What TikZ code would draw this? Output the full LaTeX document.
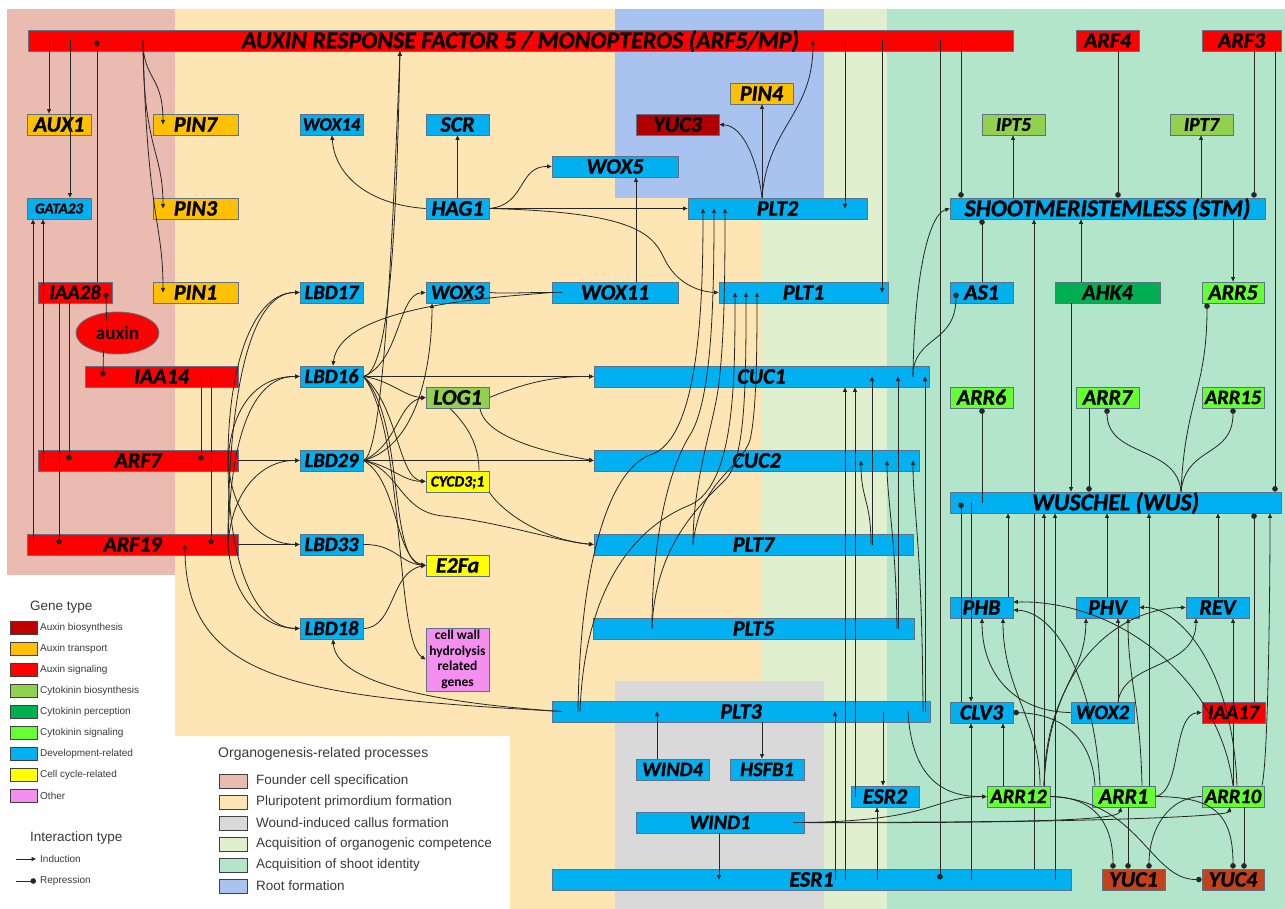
\documentclass[tikz,border=0pt]{standalone}
\usepackage{fontspec}
\setmainfont{Liberation Sans}
\newfontfamily\genefont{Carlito}[BoldItalicFeatures={FakeBold=1.2}]
\usetikzlibrary{arrows.meta,shapes.geometric,calc}
\pgfdeclarelayer{bgl}
\pgfdeclarelayer{midl}
\pgfsetlayers{bgl,midl,main}

\definecolor{bgpink}{HTML}{E9BBB1}
\definecolor{bgyellow}{HTML}{FDE6B3}
\definecolor{bgblue}{HTML}{A8C3F0}
\definecolor{bglgreen}{HTML}{E0EFCD}
\definecolor{bgmint}{HTML}{B2E5CA}
\definecolor{bggray}{HTML}{D9D9D9}
\definecolor{auxbio}{HTML}{C00000}
\definecolor{yucdark}{HTML}{B00000}
\definecolor{yucbrown}{HTML}{C3421C}
\definecolor{auxtr}{HTML}{FFC000}
\definecolor{auxsig}{HTML}{FF0000}
\definecolor{ckbio}{HTML}{92D050}
\definecolor{ckperc}{HTML}{00B050}
\definecolor{cksig}{HTML}{66FF33}
\definecolor{dev}{HTML}{00B0F0}
\definecolor{cc}{HTML}{FFFF00}
\definecolor{othr}{HTML}{F48FF0}
\definecolor{bord}{HTML}{5F7285}
\definecolor{legtext}{HTML}{3A3A3A}

\newcommand{\gene}[8][22]{%
  \node[gbox, fill=#7, minimum width={(#5-#3)*1pt}, minimum height={(#6-#4)*1pt},
        font={\genefont\bfseries\itshape\fontsize{#1}{#1}\selectfont},
        text height={0.644*#1pt}, text depth=0pt]
     (#2) at ({(#3+#5)/2},{(#4+#6)/2}) {#8};}

\begin{document}
\begin{tikzpicture}[x=1pt,y=-1pt,
  gbox/.style={draw=bord, line width=0.8pt, inner sep=0pt, text=black},
  lk/.style={draw=black!85, line width=0.8pt},
  ind/.style={lk, -{Triangle[length=4.5pt,width=4pt]}},
  rep/.style={lk, -{Circle[length=5.5pt]}},
  legsw/.style={draw=black!75, line width=0.8pt, inner sep=0pt},
  legtxt/.style={text=legtext, inner sep=0pt, anchor=west}]
\useasboundingbox (0,0) rectangle (1285,909);

% ---------- background regions
\begin{pgfonlayer}{bgl}
\fill[white] (0,0) rectangle (1285,909);
\fill[bgpink] (7,9) rectangle (175,575);
\fill[bgyellow] (175,9) -- (615,9) -- (615,198) -- (762,198) -- (762,681) -- (615,681)
   -- (615,909) -- (510,909) -- (510,736) -- (175,736) -- cycle;
\fill[bgblue] (615,9) rectangle (824,198);
\fill[bglgreen] (824,9) -- (887,9) -- (887,909) -- (824,909) -- (824,681) -- (762,681)
   -- (762,198) -- (824,198) -- cycle;
\fill[bgmint] (887,9) rectangle (1285,909);
\fill[bggray] (615,681) rectangle (824,909);
\end{pgfonlayer}

% ---------- gene nodes
\gene[24]{ARF5}{28}{30}{1013}{51}{auxsig}{AUXIN RESPONSE FACTOR 5 / MONOPTEROS (ARF5/MP)}
\gene{ARF4}{1076}{30}{1139}{51}{auxsig}{ARF4}
\gene{ARF3}{1202}{30}{1281}{51}{auxsig}{ARF3}
\gene{AUX1}{27}{114}{91}{135}{auxtr}{AUX1}
\gene{PIN7}{153}{114}{238}{135}{auxtr}{PIN7}
\gene[18.5]{WOX14}{300}{114}{363}{135}{dev}{WOX14}
\gene{SCR}{426}{114}{489}{135}{dev}{SCR}
\gene{YUC3}{636}{114}{719}{135}{yucdark}{YUC3}
\gene{PIN4}{730}{83}{793}{104}{auxtr}{PIN4}
\gene[19.5]{IPT5}{982}{114}{1045}{135}{ckbio}{IPT5}
\gene[19.5]{IPT7}{1170}{114}{1233}{135}{ckbio}{IPT7}
\gene{WOX5}{552}{156}{678}{177}{dev}{WOX5}
\gene[15]{GATA23}{27}{198}{91}{219}{dev}{GATA23}
\gene{PIN3}{153}{198}{238}{219}{auxtr}{PIN3}
\gene{HAG1}{426}{198}{489}{219}{dev}{HAG1}
\gene{PLT2}{688}{198}{867}{219}{dev}{PLT2}
\gene[24]{STM}{950}{198}{1265}{219}{dev}{SHOOTMERISTEMLESS (STM)}
\gene[20.5]{IAA28}{38}{282}{112}{303}{auxsig}{IAA28}
\gene{PIN1}{153}{282}{238}{303}{auxtr}{PIN1}
\gene[20.5]{LBD17}{300}{282}{363}{303}{dev}{LBD17}
\gene[20.5]{WOX3}{426}{282}{489}{303}{dev}{WOX3}
\gene{WOX11}{552}{282}{678}{303}{dev}{WOX11}
\gene{PLT1}{719}{282}{888}{303}{dev}{PLT1}
\gene{AS1}{950}{282}{1013}{303}{dev}{AS1}
\gene{AHK4}{1055}{282}{1160}{303}{ckperc}{AHK4}
\gene{ARR5}{1202}{282}{1264}{303}{cksig}{ARR5}
\gene{IAA14}{85}{366}{238}{387}{auxsig}{IAA14}
\gene[20.5]{LBD16}{300}{366}{363}{387}{dev}{LBD16}
\gene{CUC1}{594}{366}{929}{387}{dev}{CUC1}
\gene{LOG1}{426}{387}{489}{408}{ckbio}{LOG1}
\gene{ARR6}{950}{387}{1013}{408}{cksig}{ARR6}
\gene{ARR7}{1076}{387}{1139}{408}{cksig}{ARR7}
\gene[20.5]{ARR15}{1202}{387}{1264}{408}{cksig}{ARR15}
\gene{ARF7}{38}{450}{238}{471}{auxsig}{ARF7}
\gene[20.5]{LBD29}{300}{450}{363}{471}{dev}{LBD29}
\gene{CUC2}{594}{450}{919}{471}{dev}{CUC2}
\gene[15.5]{CYCD}{426}{471}{489}{492}{cc}{CYCD3;1}
\gene[24]{WUS}{950}{492}{1281}{513}{dev}{WUSCHEL (WUS)}
\gene{ARF19}{27}{534}{238}{555}{auxsig}{ARF19}
\gene[20.5]{LBD33}{300}{534}{363}{555}{dev}{LBD33}
\gene{PLT7}{594}{534}{913}{555}{dev}{PLT7}
\gene{E2Fa}{426}{555}{489}{576}{cc}{E2Fa}
\gene{PHB}{950}{597}{1013}{618}{dev}{PHB}
\gene{PHV}{1076}{597}{1139}{618}{dev}{PHV}
\gene{REV}{1186}{597}{1249}{618}{dev}{REV}
\gene[20.5]{LBD18}{300}{618}{363}{639}{dev}{LBD18}
\gene{PLT5}{593}{618}{914}{639}{dev}{PLT5}
\gene{PLT3}{552}{701}{930}{722}{dev}{PLT3}
\gene{CLV3}{950}{702}{1013}{723}{dev}{CLV3}
\gene[20.5]{WOX2}{1071}{702}{1134}{723}{dev}{WOX2}
\gene[20.5]{IAA17}{1202}{702}{1265}{723}{auxsig}{IAA17}
\gene[20.5]{WIND4}{636}{759}{709}{780}{dev}{WIND4}
\gene[20.5]{HSFB1}{730}{759}{804}{780}{dev}{HSFB1}
\gene{ESR2}{851}{786}{919}{807}{dev}{ESR2}
\gene[20.5]{ARR12}{987}{786}{1050}{807}{cksig}{ARR12}
\gene{ARR1}{1092}{786}{1155}{807}{cksig}{ARR1}
\gene[20.5]{ARR10}{1202}{786}{1264}{807}{cksig}{ARR10}
\gene[20.5]{WIND1}{636}{812}{804}{833}{dev}{WIND1}
\gene{ESR1}{552}{869}{1071}{890}{dev}{ESR1}
\gene{YUC1}{1102}{869}{1165}{890}{yucbrown}{YUC1}
\gene{YUC4}{1202}{869}{1264}{890}{yucbrown}{YUC4}

\node[gbox, fill=othr, minimum width=63pt, minimum height=63pt, align=center,
      font={\genefont\bfseries\fontsize{13.5}{15.5}\selectfont}]
   (cellwall) at (457.5,659.5) {cell wall\\hydrolysis\\related\\genes};
\node[ellipse, fill=red, draw=bord, line width=0.8pt, minimum width=83pt, minimum height=42pt,
      inner sep=0pt, font={\genefont\bfseries\fontsize{19}{19}\selectfont}]
   (auxin) at (117.5,333) {auxin};

% ---------- connectors passing behind boxes
\begin{pgfonlayer}{midl}
\draw[ind] (ESR1.center -| 1034,0) -- (STM.south -| 1034,0);
\end{pgfonlayer}

% ---------- ARF5 / left part
\draw[ind] (ARF5.center -| 49,0) -- (AUX1.north -| 49,0);
\draw[ind] (ARF5.center -| 70,0) -- (GATA23.north -| 70,0);
\draw[ind] (ARF5.center -| 143,0) .. controls (143,80) and (163,75) .. (PIN7.center -| 163,0);
\draw[ind] (ARF5.center -| 143,0) .. controls (143,150) and (163,150) .. (PIN3.center -| 163,0);
\draw[ind] (ARF5.center -| 143,0) .. controls (147,220) and (163,220) .. (PIN1.center -| 163,0);
\draw[rep] (IAA28.north -| 97,0) -- (ARF5.center -| 97,0);
\draw[rep] ($(auxin.north)+(-11,9)$) -- (IAA28.center -| 106,0);
\draw[rep] ($(auxin.south)+(-14,-6)$) -- (IAA14.center -| 103,0);
\draw[rep] (IAA28.south -| 69,0) -- (ARF7.center -| 69,0);
\draw[rep] (IAA28.south -| 59,0) -- (ARF19.center -| 59,0);
\draw[rep] (IAA14.center -| 201,0) -- (ARF7.center -| 201,0);
\draw[rep] (IAA14.center -| 211,0) -- (ARF19.center -| 211,0);
\draw[ind] (ARF7.center -| 43,0) -- (GATA23.south -| 43,0);
\draw[ind] (ARF19.center -| 33,0) -- (GATA23.south -| 33,0);
\draw[ind] (PLT3.center -| 562,0) .. controls (300,697) and (185,682) .. (ARF19.center -| 185,0);
\draw[ind] (PLT3.center -| 562,0) .. controls (420,702) and (336,680) .. (LBD18.south -| 333,0);
\draw[ind] (LBD16.east) .. controls (388,372) and (396,250) .. (ARF5.south -| 400,0);
\draw[ind] (LBD29.east) .. controls (383,455) and (392,250) .. (ARF5.south -| 400,0);

% ---------- ARF7 / ARF19 -> LBDs
\draw[ind] (ARF7.east) -- (LBD29.west);
\draw[ind] (ARF19.east) -- (LBD33.west);
\draw[ind] (ARF7.center -| 228,0) .. controls (228,360) and (255,292) .. (LBD17.west);
\draw[ind] (ARF7.center -| 228,0) .. controls (232,400) and (262,376) .. (LBD16.west);
\draw[ind] (ARF7.center -| 228,0) .. controls (232,520) and (265,544) .. (LBD33.west);
\draw[ind] (ARF7.center -| 228,0) .. controls (228,580) and (262,628) .. (LBD18.west);
\draw[ind] (ARF19.center -| 228,0) .. controls (228,400) and (248,292) .. (LBD17.west);
\draw[ind] (ARF19.center -| 228,0) .. controls (230,430) and (255,376) .. (LBD16.west);
\draw[ind] (ARF19.center -| 228,0) .. controls (232,490) and (262,460) .. (LBD29.west);
\draw[ind] (ARF19.center -| 228,0) .. controls (232,600) and (265,628) .. (LBD18.west);

% ---------- LBD outputs
\draw[ind] (LBD16.east) -- (CUC1.west);
\draw[ind] (LBD29.east) -- (CUC2.west);
\draw[ind] (LBD16.east) .. controls (390,380) and (405,397) .. (LOG1.west);
\draw[ind] (LBD29.east) .. controls (398,445) and (398,402) .. (LOG1.west);
\draw[ind] (LBD16.east) .. controls (398,405) and (398,478) .. (CYCD.west);
\draw[ind] (LBD29.east) .. controls (392,466) and (402,481) .. (CYCD.west);
\draw[ind] (LBD16.east) .. controls (405,420) and (388,560) .. (E2Fa.west);
\draw[ind] (LBD29.east) .. controls (398,480) and (395,558) .. (E2Fa.west);
\draw[ind] (LBD33.east) .. controls (395,544) and (400,563) .. (E2Fa.west);
\draw[ind] (LBD18.east) .. controls (395,628) and (390,572) .. (E2Fa.west);
\draw[ind] (LBD29.east) .. controls (400,470) and (400,512) .. (443,516) .. controls (500,522) and (560,542) .. (PLT7.west);
\draw[ind] (LBD16.east) .. controls (405,430) and (395,640) .. (cellwall.west);
\draw[ind] (LBD16.east) .. controls (400,362) and (398,294) .. (WOX3.west);
\draw[ind] (LBD29.east) .. controls (420,445) and (432,360) .. (WOX3.south -| 432,0);
\draw[ind] (LOG1.east) .. controls (520,385) and (550,376) .. (CUC1.west);
\draw[ind] (LOG1.south -| 480,0) .. controls (485,440) and (560,455) .. (CUC2.west);
\draw[lk] (LOG1.south -| 450,0) .. controls (472,430) and (479,450) .. (CYCD.north -| 479,0);
\draw[ind] (CYCD.south east) .. controls (505,515) and (545,540) .. (PLT7.west);

% ---------- HAG1 / WOX11
\draw[ind] (HAG1.north) -- (SCR.south);
\draw[ind] (HAG1.west) .. controls (372,205) and (335,178) .. (WOX14.south -| 332,0);
\draw[ind] (HAG1.east) .. controls (526,205) and (518,166) .. (WOX5.west);
\draw[ind] (HAG1.east) -- (PLT2.west);
\draw[ind] (HAG1.east) .. controls (630,212) and (652,232) .. (664,258) .. controls (676,284) and (700,292) .. (PLT1.west);
\draw[ind] (WOX11.north -| 636,0) -- (WOX5.south -| 636,0);
\draw[lk] (WOX11.center -| 562,0) .. controls (530,292) and (505,294) .. (WOX3.east);
\draw[ind] (WOX11.west) .. controls (500,297) and (340,305) .. (LBD16.north -| 333,0);

% ---------- PLT2 / ARF5 right part
\draw[ind] (PLT2.north -| 762,0) .. controls (758,165) and (745,126) .. (YUC3.east);
\draw[ind] (PLT2.north -| 762,0) -- (PIN4.south -| 762,0);
\draw[ind] (PLT2.north -| 762,0) .. controls (768,125) and (813,115) .. (ARF5.center -| 813,0);
\draw[ind] (ARF5.center -| 845,0) -- (PLT2.center -| 845,0);
\draw[ind] (ARF5.center -| 882,0) -- (PLT1.center -| 882,0);
\draw[rep] (ARF5.center -| 940,0) -- (ESR1.center -| 940,0);
\draw[rep] (ARF5.center -| 961,0) -- (STM.north -| 961,0);
\draw[rep] (ARF4.south -| 1118,0) -- (STM.north -| 1118,0);
\draw[rep] (ARF3.south -| 1254,0) -- (STM.north -| 1254,0);
\draw[rep] (ARF3.south -| 1275,0) -- (WUS.north -| 1275,0);

% ---------- PLT3/5/7 -> PLT1/PLT2
\draw[ind] (PLT3.center -| 578,0) .. controls (580,560) and (610,470) .. (650,455) .. controls (700,440) and (703,300) .. (PLT2.center -| 703,0);
\draw[ind] (PLT3.center -| 580,0) .. controls (585,580) and (640,525) .. (690,505) .. controls (735,485) and (735,380) .. (PLT1.center -| 735,0);
\draw[ind] (PLT5.center -| 652,0) .. controls (652,540) and (668,470) .. (690,435) .. controls (712,400) and (714,300) .. (PLT2.center -| 714,0);
\draw[ind] (PLT5.center -| 652,0) .. controls (655,545) and (700,505) .. (725,480) .. controls (746,460) and (746,380) .. (PLT1.center -| 746,0);
\draw[ind] (PLT7.center -| 693,0) .. controls (693,480) and (712,430) .. (718,390) .. controls (725,340) and (725,260) .. (PLT2.center -| 725,0);
\draw[ind] (PLT7.center -| 693,0) .. controls (700,480) and (740,470) .. (750,440) .. controls (757,410) and (757,340) .. (PLT1.center -| 757,0);

% ---------- PLT3/5/7 -> CUC1/CUC2
\draw[ind] (PLT3.center -| 925,0) -- (CUC1.center -| 925,0);
\draw[ind] (PLT3.center -| 923,0) .. controls (922,540) and (913,510) .. (CUC2.center -| 913,0);
\draw[ind] (PLT5.center -| 898,0) -- (CUC1.center -| 898,0);
\draw[ind] (PLT5.center -| 897,0) .. controls (896,540) and (887,500) .. (CUC2.center -| 887,0);
\draw[ind] (PLT7.center -| 872,0) -- (CUC1.center -| 872,0);
\draw[ind] (PLT7.center -| 871,0) .. controls (871,500) and (861,500) .. (CUC2.center -| 861,0);

% ---------- ESR / WIND
\draw[ind] (ESR1.center -| 835,0) -- (PLT3.center -| 835,0);
\draw[ind] (ESR1.center -| 845,0) -- (CUC1.south -| 845,0);
\draw[ind] (ESR2.center -| 855,0) -- (CUC1.south -| 855,0);
\draw[ind] (PLT3.center -| 883,0) -- (ESR2.north -| 883,0);
\draw[ind] (ESR1.center -| 877,0) -- (ESR2.south -| 877,0);
\draw[ind] (WIND4.north -| 657,0) -- (PLT3.center -| 657,0);
\draw[ind] (PLT3.south -| 762,0) -- (HSFB1.north -| 762,0);
\draw[ind] (WIND1.south -| 719,0) -- (ESR1.center -| 719,0);
\draw[ind] (WIND1.center -| 793,0) .. controls (935,822) and (930,797) .. (ARR12.west);
\draw[ind] (WIND1.center -| 793,0) .. controls (1000,822) and (1118,822) .. (ARR1.south -| 1121,0);
\draw[ind] (WIND1.center -| 793,0) .. controls (1000,824) and (1228,818) .. (ARR10.south -| 1230,0);
\draw[ind] (PLT3.center -| 908,0) .. controls (912,785) and (950,797) .. (ARR12.west);

% ---------- STM / AS1 / CUC1
\draw[ind] (STM.north -| 1013,0) -- (IPT5.south -| 1013,0);
\draw[ind] (STM.north -| 1201,0) -- (IPT7.south -| 1201,0);
\draw[ind] (STM.south -| 1233,0) -- (ARR5.north -| 1233,0);
\draw[rep] (AS1.north -| 982,0) -- (STM.south -| 982,0);
\draw[ind] (AHK4.north -| 1081,0) -- (STM.south -| 1081,0);
\draw[ind] (CUC1.center -| 913,0) .. controls (914,280) and (928,215) .. (STM.west);
\draw[rep] (CUC1.center -| 913,0) .. controls (913,335) and (956,345) .. (AS1.center -| 956,0);

% ---------- WUS
\draw[ind] (AHK4.south -| 1071,0) -- (WUS.north -| 1071,0);
\draw[rep] (ARR7.south -| 1089,0) -- (WUS.north -| 1089,0);
\draw[rep] (WUS.center -| 982,0) -- (ARR6.south -| 982,0);
\draw[rep] (WUS.north -| 1181,0) .. controls (1177,445) and (1107,458) .. (ARR7.south -| 1107,0);
\draw[rep] (WUS.north -| 1181,0) .. controls (1186,445) and (1233,458) .. (ARR15.south -| 1233,0);
\draw[rep] (WUS.north -| 1181,0) .. controls (1185,400) and (1207,390) .. (ARR5.south -| 1207,0);
\draw[rep] (CLV3.north -| 961,0) -- (WUS.center -| 961,0);
\draw[ind] (WUS.center -| 971,0) -- (CLV3.north -| 971,0);
\draw[ind] (PHB.north -| 1008,0) -- (WUS.south -| 1008,0);
\draw[ind] (ARR12.north -| 1044,0) -- (WUS.south -| 1044,0);
\draw[ind] (ESR1.center -| 1055,0) -- (WUS.south -| 1055,0);
\draw[ind] (PHV.north -| 1107,0) -- (WUS.south -| 1107,0);
\draw[ind] (ARR1.north -| 1149,0) -- (WUS.south -| 1149,0);
\draw[ind] (REV.north -| 1218,0) -- (WUS.south -| 1218,0);
\draw[rep] (IAA17.north -| 1254,0) -- (WUS.south -| 1254,0);
\draw[ind] (ARR10.north -| 1262,0) .. controls (1268,760) and (1270,600) .. (WUS.south -| 1270,0);

% ---------- right cluster
\draw[ind] (WOX2.west) .. controls (1020,712) and (982,680) .. (PHB.south -| 982,0);
\draw[ind] (ARR12.north -| 1040,0) .. controls (1040,720) and (1003,690) .. (PHB.south -| 1003,0);
\draw[ind] (ARR1.north -| 1100,0) .. controls (1095,690) and (1060,612) .. (PHB.east |- 0,610);
\draw[ind] (ARR10.north -| 1233,0) .. controls (1220,680) and (1120,600) .. (PHB.east |- 0,602);
\draw[ind] (ARR10.north -| 1237,0) .. controls (1232,660) and (1175,606) .. (PHV.east);
\draw[ind] (ARR12.north -| 1044,0) .. controls (1046,690) and (1085,680) .. (PHV.south -| 1086,0);
\draw[ind] (WOX2.north -| 1118,0) -- (PHV.south -| 1118,0);
\draw[ind] (ARR1.north -| 1142,0) .. controls (1140,700) and (1128,680) .. (PHV.south -| 1128,0);
\draw[ind] (ARR12.north -| 1044,0) .. controls (1050,650) and (1130,608) .. (REV.west);
\draw[ind] (WOX2.north -| 1118,0) .. controls (1125,660) and (1196,670) .. (REV.south -| 1196,0);
\draw[ind] (ARR10.north -| 1233,0) -- (REV.south -| 1233,0);
\draw[ind] (ARR12.north -| 1003,0) -- (CLV3.south -| 1003,0);
\draw[ind] (ESR1.center -| 971,0) -- (CLV3.south -| 971,0);
\draw[rep] (ARR1.north -| 1095,0) .. controls (1092,740) and (1065,714) .. (CLV3.east);
\draw[ind] (ARR1.east) .. controls (1182,792) and (1172,714) .. (IAA17.west);
\draw[rep] (ARR12.east) .. controls (1100,797) and (1113,830) .. (YUC1.north -| 1113,0);
\draw[rep] (ARR1.south -| 1128,0) -- (YUC1.north -| 1128,0);
\draw[rep] (ARR10.west) .. controls (1168,797) and (1149,830) .. (YUC1.north -| 1149,0);
\draw[rep] (ARR1.east) .. controls (1212,797) and (1233,812) .. (YUC4.north -| 1233,0);
\draw[rep] (ARR10.south -| 1244,0) -- (YUC4.north -| 1244,0);
\draw[rep] (ARR12.east) .. controls (1140,800) and (1150,880) .. (YUC4.west);

% ---------- legend: gene type
\node[legtxt, font=\fontsize{13.5}{13.5}\selectfont] (gtitle) at (30,607) {Gene type};
\foreach \c/\t [count=\i from 0] in {auxbio/Auxin biosynthesis, auxtr/Auxin transport,
   auxsig/Auxin signaling, ckbio/Cytokinin biosynthesis, ckperc/Cytokinin perception,
   cksig/Cytokinin signaling, dev/Development-related, cc/Cell cycle-related, othr/Other}{
  \node[legsw, fill=\c, minimum width=27pt, minimum height=13pt] (gsw\i) at (23.5,{628.3+21*\i}) {};
  \node[legtxt, font=\fontsize{10}{10}\selectfont] (gtx\i) at (40,{628.3+21*\i}) {\t};
}
\node[legtxt, font=\fontsize{13.5}{13.5}\selectfont] (ititle) at (30,838) {Interaction type};
\coordinate (ia1) at (16,859); \coordinate (ia2) at (36,859);
\coordinate (ir1) at (16,881); \coordinate (ir2) at (36,881);
\draw[ind] (ia1) -- (ia2);
\draw[rep] (ir1) -- (ir2);
\node[legtxt, font=\fontsize{10}{10}\selectfont] (indtx) at (40,859) {Induction};
\node[legtxt, font=\fontsize{10}{10}\selectfont] (reptx) at (40,881) {Repression};

% ---------- legend: organogenesis processes
\node[legtxt, font=\fontsize{14}{14}\selectfont] (otitle) at (218,754) {Organogenesis-related processes};
\foreach \c/\t [count=\i from 0] in {bgpink/Founder cell specification,
   bgyellow/Pluripotent primordium formation, bggray/Wound-induced callus formation,
   bglgreen/Acquisition of organogenic competence, bgmint/Acquisition of shoot identity,
   bgblue/Root formation}{
  \node[legsw, fill=\c, minimum width=28pt, minimum height=14pt] (osw\i) at (233,{781+21*\i}) {};
  \node[legtxt, font=\fontsize{13.5}{13.5}\selectfont] (otx\i) at (256,{781+21*\i}) {\t};
}
\end{tikzpicture}
\end{document}
